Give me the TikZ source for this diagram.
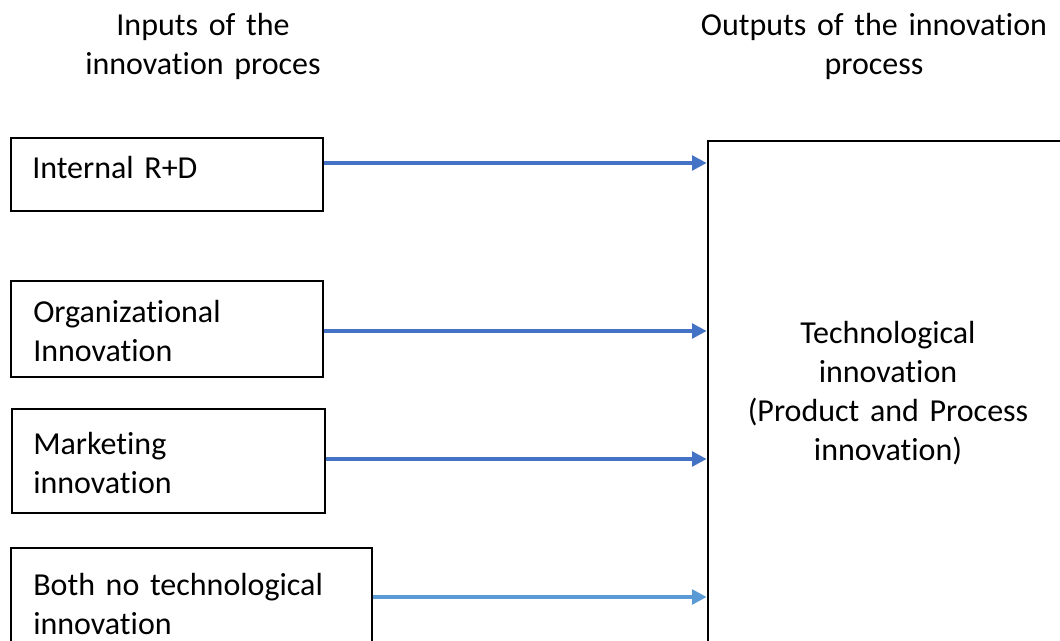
\documentclass[tikz,border=0pt]{standalone}
\usepackage{fontspec}
\setmainfont{Carlito}[Ligatures=CommonOff]
\usetikzlibrary{arrows.meta,fit}
\definecolor{arrblue}{RGB}{68,114,196}
\definecolor{arrlight}{RGB}{91,155,213}
\newcommand\diagfont{\fontsize{24}{29.25}\selectfont\spaceskip=5.2pt\relax}

\tikzset{
  frame/.style={draw=black, line width=1.5pt, inner sep=0pt},
  boxtext/.style={anchor=base west, align=left, text width=250pt, inner sep=0pt},
  heading/.style={anchor=base, align=center, inner sep=0pt},
  flow/.style={-{Triangle[length=11pt,width=11pt]}, line width=2.6pt},
}

\begin{document}
\begin{tikzpicture}[x=0.75pt, y=-0.75pt, every node/.style={font=\diagfont}]
\useasboundingbox (0,0) rectangle (1060,641);
\clip (0,0) rectangle (1060,641);

% Headings
\node[heading, text width=225pt] (inhead) at (203,36) {Inputs of the\\innovation proces};
\node[heading, text width=300pt] (outhead) at (874,36) {Outputs of the innovation\\process};

% Input frames
\node[frame, fit={(11,138) (323,211)}] (rd) {};
\node[frame, fit={(11,281) (323,377)}] (org) {};
\node[frame, line width=1pt, fit={(12,409) (325,513)}] (mkt) {};
\node[frame, fit={(11,548) (372,680)}] (both) {};

% Output frame
\node[frame, line width=2pt, fit={(708,141) (1100,680)}] (tech) {};

% Texts
\node[boxtext] (rdtext) at (32,179) {Internal R+D};
\node[boxtext] (orgtext) at (33,323) {Organizational\\Innovation};
\node[boxtext] (mkttext) at (33,454) {Marketing\\innovation};
\node[boxtext] (bothtext) at (33,595) {Both no technological\\innovation};
\node[heading, text width=255pt] (techtext) at (888,344) {Technological\\innovation\\(Product and Process\\innovation)};

% Arrows
\foreach \src/\yy/\col in {rd/163/arrblue, org/331/arrblue, mkt/459/arrblue, both/597/arrlight}{
  \coordinate (c\src) at (0,\yy);
  \draw[flow, color=\col] (\src.east |- c\src) -- (tech.west |- c\src);
}
\end{tikzpicture}
\end{document}
